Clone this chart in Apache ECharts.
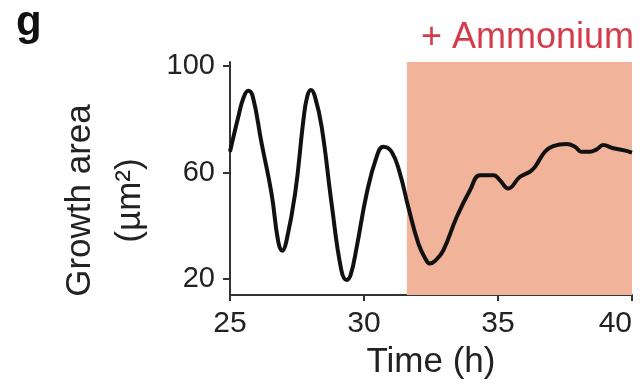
<!DOCTYPE html>
<html>
<head>
<meta charset="utf-8">
<script src="https://cdn.jsdelivr.net/npm/echarts@6/dist/echarts.min.js"></script>
<style>
  html, body { margin: 0; padding: 0; background: #fff; }
  #main { width: 644px; height: 386px; }
</style>
</head>
<body>
<div id="main"></div>
<script>
    // time (h) and growth area (um^2)
    var times = [25.0, 25.31, 25.5, 25.68, 25.85, 26.18, 26.55, 26.8, 26.95, 27.1, 27.43, 27.74, 27.88, 28.02, 28.17,
        28.42, 28.79, 29.15, 29.35, 29.5, 29.73, 30.1, 30.47, 30.72, 31.03, 31.34, 31.65, 32.03, 32.3, 32.46,
        32.65, 32.96, 33.46, 33.96, 34.33, 34.83, 35.07, 35.38, 35.82, 36.19, 36.38, 36.75, 37.06, 37.56,
        37.87, 38.12, 38.43, 38.68, 38.93, 39.3, 39.67, 40.0];
    var areas = [67.8, 80.9, 88.0, 90.7, 88.5, 70.9, 52.1, 34.0, 30.6, 34.0, 52.1, 79.7, 88.5, 91.0, 88.5,
        77.2, 48.4, 23.5, 19.6, 21.5, 32.1, 52.1, 65.9, 69.7, 67.8, 59.7, 47.1, 33.3, 27.5, 25.8,
        26.8, 30.8, 43.3, 53.4, 59.0, 59.0, 57.1, 54.0, 58.4, 60.3, 62.1, 67.8, 69.9, 70.7,
        69.7, 67.8, 67.8, 68.7, 70.3, 69.1, 68.4, 67.5];
    var yTicks = [20, 60, 100];
    var ammoniumStart = 31.6;
    var ammoniumEnd = 40;

    var font = 'Liberation Sans';
    var myChart = echarts.init(document.getElementById('main'), null, { renderer: 'canvas' });

    var lineData = times.map(function (t, i) { return [t, areas[i]]; });

    var option = {
        animation: false,
        backgroundColor: '#fff',
        textStyle: { fontFamily: font },
        graphic: [{
            type: 'text',
            left: 16,
            top: 2,
            style: { text: 'g', fontSize: 42, fontWeight: 'bold', fontFamily: font, fill: '#111' }
        }],
        grid: { left: 230, right: 12, top: 62, bottom: 91, outerBoundsMode: 'none', containLabel: false },
        xAxis: {
            type: 'value',
            min: 25,
            max: 40,
            interval: 5,
            name: 'Time (h)',
            nameLocation: 'middle',
            nameGap: 50,
            nameTextStyle: { fontSize: 35, color: '#222', fontFamily: font },
            splitLine: { show: false },
            axisLine: { lineStyle: { color: '#333', width: 2 } },
            axisTick: { length: 6, lineStyle: { color: '#333', width: 2 } },
            axisLabel: {
                fontSize: 30, color: '#222', margin: 14, fontFamily: font,
                showMinLabel: true, showMaxLabel: true, alignMaxLabel: 'right'
            }
        },
        yAxis: {
            type: 'value',
            min: 14,
            max: 101.5,
            name: 'Growth area\n(µm²)',
            nameLocation: 'middle',
            nameRotate: 90,
            nameGap: 70,
            nameTextStyle: {
                fontSize: 35, color: '#222', fontFamily: font, lineHeight: 50,
                align: 'center', padding: [0, 44, 0, 0]
            },
            splitLine: { show: false },
            axisLine: { show: true, lineStyle: { color: '#333', width: 2 } },
            axisTick: { show: true, length: 7, customValues: yTicks, lineStyle: { color: '#333', width: 2 } },
            axisLabel: { fontSize: 29, color: '#222', margin: 15, customValues: yTicks, fontFamily: font }
        },
        series: [{
            type: 'line',
            data: lineData,
            smooth: 0.45,
            symbol: 'none',
            lineStyle: { color: '#111', width: 4 },
            z: 3,
            markArea: {
                silent: true,
                itemStyle: { color: '#f1b49b' },
                label: {
                    show: true,
                    position: 'top',
                    distance: 6,
                    offset: [8, 0],
                    color: '#d63b4b',
                    fontSize: 36,
                    fontFamily: font
                },
                data: [[
                    { name: '+ Ammonium', xAxis: ammoniumStart, yAxis: 101.5 },
                    { xAxis: ammoniumEnd, yAxis: 14 }
                ]]
            }
        }]
    };
    myChart.setOption(option);

    window.addEventListener('resize', function () {
        if (myChart != null && myChart != undefined) {
            myChart.resize();
        }
    });
</script>
</body>
</html>
